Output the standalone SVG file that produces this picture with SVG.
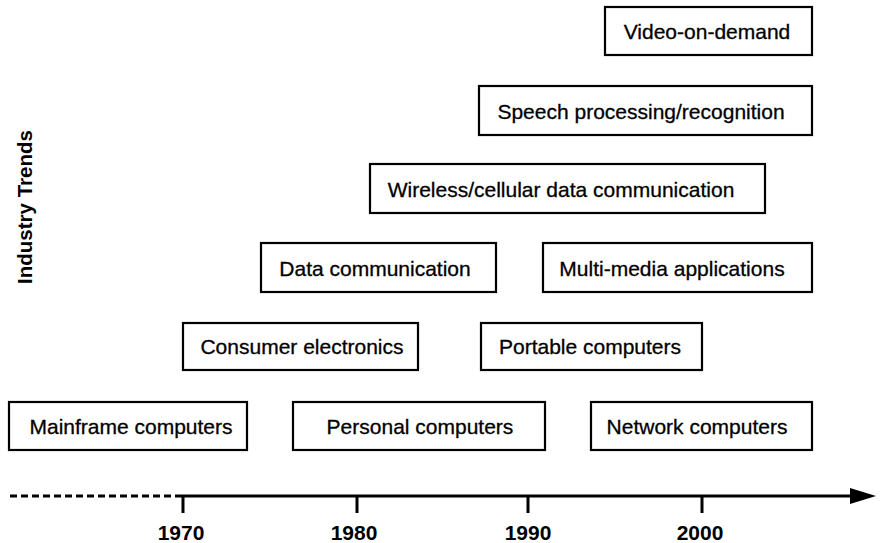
<svg xmlns="http://www.w3.org/2000/svg" width="881" height="543" viewBox="0 0 881 543">
<style>
.box{fill:#fff;stroke:#000;stroke-width:2.2}
.lbl{font-family:"Liberation Sans",Arial,sans-serif;font-size:21px;fill:#000;stroke:#000;stroke-width:0.3;text-anchor:middle}
.yr{font-family:"Liberation Sans",Arial,sans-serif;font-size:21px;font-weight:bold;fill:#000;text-anchor:middle}
.ax{stroke:#000;stroke-width:3;fill:none}
</style>
<rect width="881" height="543" fill="#fff"/>
<text class="yr" transform="translate(32,207) rotate(-90)" style="font-size:20.5px">Industry Trends</text>
<g id="connectors">
<line class="ax" x1="10" y1="496" x2="175" y2="496" stroke-dasharray="7,4"/>
<line class="ax" x1="175" y1="496" x2="852" y2="496"/>
<polygon points="850,488 876,496 850,504" fill="#000"/>
<line class="ax" x1="183" y1="496" x2="183" y2="513"/>
<line class="ax" x1="357" y1="496" x2="357" y2="513"/>
<line class="ax" x1="528" y1="496" x2="528" y2="513"/>
<line class="ax" x1="702" y1="496" x2="702" y2="513"/>
</g>
<g id="years">
<text class="yr" x="181" y="540">1970</text>
<text class="yr" x="354" y="540">1980</text>
<text class="yr" x="528" y="540">1990</text>
<text class="yr" x="700" y="540">2000</text>
</g>
<g id="mainframe"><rect class="box" x="9" y="402" width="238" height="48"/><text class="lbl" x="131" y="434">Mainframe computers</text></g>
<g id="personal"><rect class="box" x="293" y="402" width="252" height="48"/><text class="lbl" x="420" y="434">Personal computers</text></g>
<g id="network"><rect class="box" x="591" y="402" width="221" height="48"/><text class="lbl" x="697" y="434">Network computers</text></g>
<g id="consumer"><rect class="box" x="183" y="323" width="235" height="47"/><text class="lbl" x="302" y="354">Consumer electronics</text></g>
<g id="portable"><rect class="box" x="481" y="323" width="221" height="47"/><text class="lbl" x="590" y="354">Portable computers</text></g>
<g id="data"><rect class="box" x="261" y="243" width="235" height="49"/><text class="lbl" x="375" y="276">Data communication</text></g>
<g id="multimedia"><rect class="box" x="543" y="243" width="269" height="49"/><text class="lbl" x="672" y="276">Multi-media applications</text></g>
<g id="wireless"><rect class="box" x="370" y="164" width="395" height="49"/><text class="lbl" x="561" y="197">Wireless/cellular data communication</text></g>
<g id="speech"><rect class="box" x="479" y="86" width="333" height="49"/><text class="lbl" x="641" y="119">Speech processing/recognition</text></g>
<g id="video"><rect class="box" x="605" y="7" width="207" height="48"/><text class="lbl" x="707" y="39">Video-on-demand</text></g>
</svg>
